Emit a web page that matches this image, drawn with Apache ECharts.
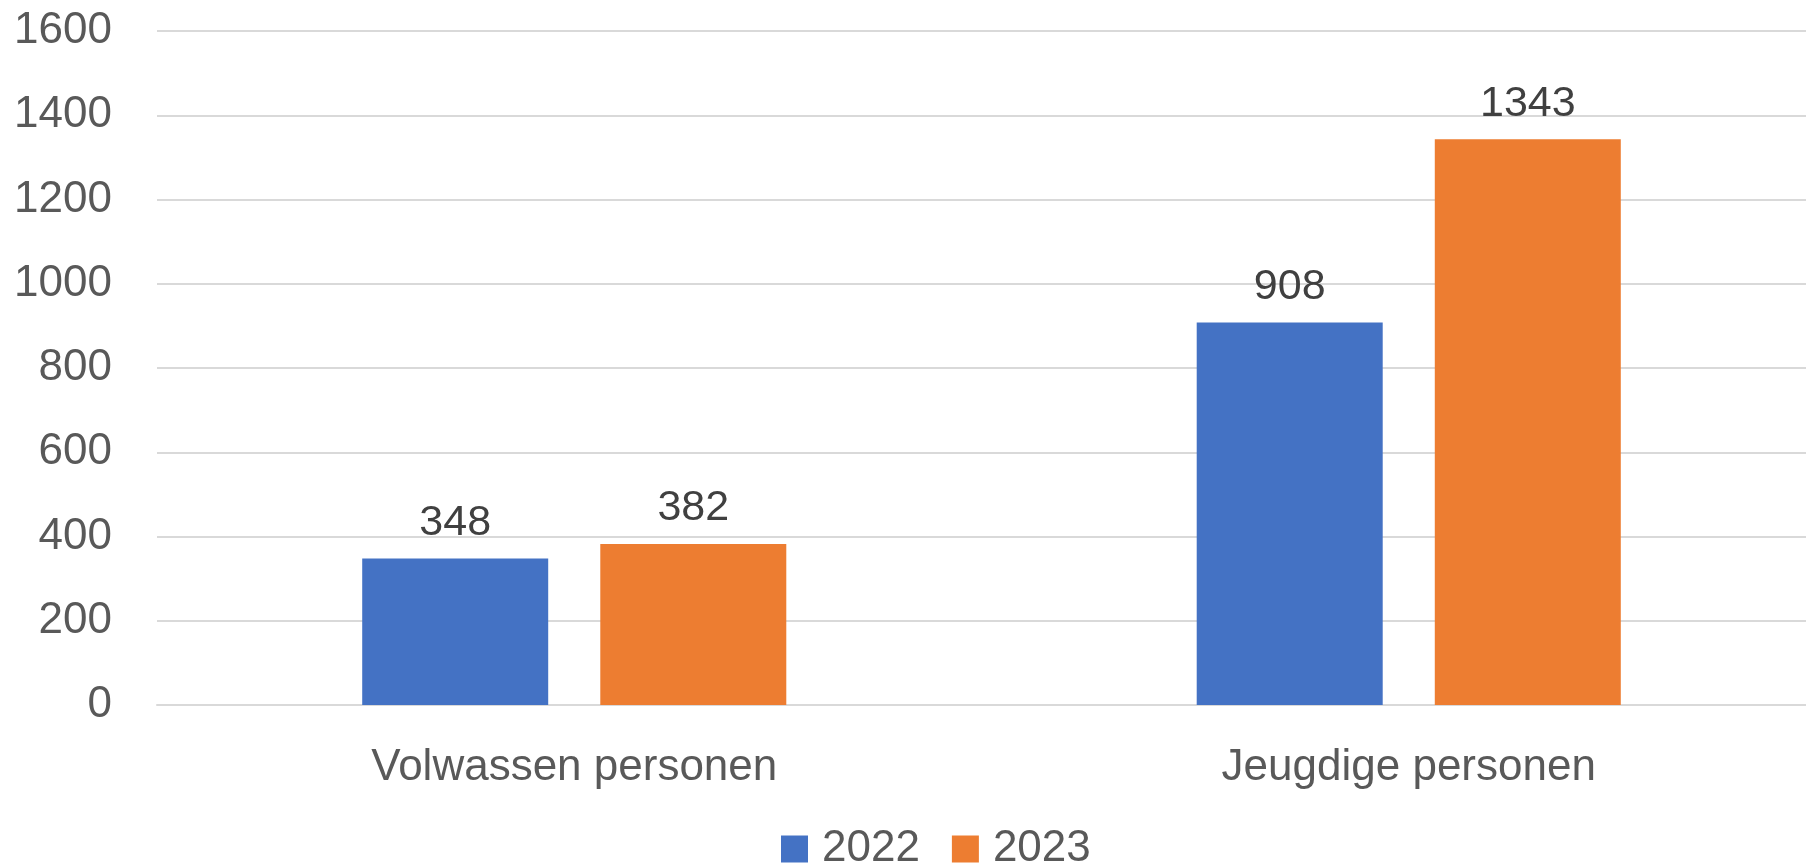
<!DOCTYPE html>
<html>
<head>
<meta charset="utf-8">
<script src="https://cdn.jsdelivr.net/npm/echarts@6/dist/echarts.min.js"></script>
<style>
html,body{margin:0;padding:0;background:#fff;overflow:hidden;width:1806px;height:865px;}
#chart{width:1826px;height:865px;}
</style>
</head>
<body>
<div id="chart"></div>
<script>
const categories = ['Volwassen personen', 'Jeugdige personen'];
const seriesNames = ['2022', '2023'];
const values2022 = [348, 908];
const values2023 = [382, 1343];
const yTicks = [0, 200, 400, 600, 800, 1000, 1200, 1400, 1600];

const FONT = '"Liberation Sans", Arial, sans-serif';
const chart = echarts.init(document.getElementById('chart'), null, {renderer: 'canvas'});
const labelStyle = {
  show: true, position: 'top', distance: 14,
  color: '#404040', fontSize: 43, fontFamily: FONT
};
chart.setOption({
  animation: false,
  backgroundColor: '#ffffff',
  grid: {left: 157, right: 0, top: 31, bottom: 160, containLabel: false},
  legend: {
    data: seriesNames,
    left: 781, top: 827, padding: 0,
    itemWidth: 27, itemHeight: 27, itemGap: 32,
    icon: 'rect',
    textStyle: {fontSize: 44, color: '#595959', fontFamily: FONT, padding: [0, 0, 0, 9]}
  },
  xAxis: {
    type: 'category',
    data: categories,
    axisLine: {show: true, lineStyle: {color: '#D9D9D9', width: 2}},
    axisTick: {show: false},
    axisLabel: {fontSize: 44, color: '#595959', fontFamily: FONT, margin: 41}
  },
  yAxis: {
    type: 'value',
    min: yTicks[0], max: yTicks[yTicks.length - 1], interval: 200,
    axisLine: {show: false},
    axisTick: {show: false},
    splitLine: {lineStyle: {color: '#D9D9D9', width: 2}},
    axisLabel: {fontSize: 44, color: '#595959', fontFamily: FONT, margin: 45,
                formatter: function (v) { return String(v); }}
  },
  series: [
    {name: seriesNames[0], type: 'bar', data: values2022, barWidth: 186, barGap: '28%',
     itemStyle: {color: '#4472C4'}, label: labelStyle},
    {name: seriesNames[1], type: 'bar', data: values2023, barWidth: 186,
     itemStyle: {color: '#ED7D31'}, label: labelStyle}
  ]
});
</script>
</body>
</html>
